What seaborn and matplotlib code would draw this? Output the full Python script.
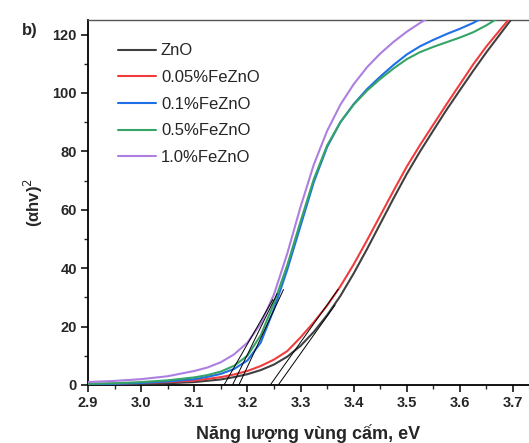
import seaborn as sns
import matplotlib.pyplot as plt
import pandas as pd
from matplotlib.ticker import MultipleLocator

# photon energy (eV) and (alpha h v)^2
x_zno = [2.90, 2.95, 3.00, 3.05, 3.10, 3.15, 3.175, 3.20, 3.225, 3.25, 3.275, 3.30, 3.325, 3.35,
         3.375, 3.40, 3.425, 3.45, 3.475, 3.50, 3.525, 3.55, 3.575, 3.60, 3.625, 3.65, 3.675, 3.70]
y_zno = [0.1, 0.2, 0.4, 0.6, 1.0, 1.9, 2.7, 3.7, 5.1, 7.0, 9.7, 13.4, 18.2, 23.9,
         30.5, 38.2, 46.5, 55.2, 63.9, 72.3, 80.0, 87.2, 94.3, 101.0, 107.6, 114.0, 120.0, 126.0]

x_fe005 = [2.90, 2.95, 3.00, 3.05, 3.10, 3.15, 3.175, 3.20, 3.225, 3.25, 3.275, 3.30, 3.325, 3.35,
           3.375, 3.40, 3.425, 3.45, 3.475, 3.50, 3.525, 3.55, 3.575, 3.60, 3.625, 3.65, 3.675, 3.70]
y_fe005 = [0.3, 0.5, 0.7, 1.0, 1.5, 2.7, 3.6, 4.8, 6.5, 8.7, 11.6, 16.3, 21.5, 27.2,
           33.8, 41.3, 49.5, 58.0, 66.5, 74.8, 82.2, 89.2, 96.2, 103.0, 109.8, 116.0, 121.5, 127.0]

x_fe01 = [2.90, 2.95, 3.00, 3.05, 3.10, 3.125, 3.15, 3.175, 3.20, 3.225, 3.25, 3.275, 3.30, 3.325,
          3.35, 3.375, 3.40, 3.425, 3.45, 3.475, 3.50, 3.525, 3.55, 3.575, 3.60, 3.625, 3.65]
y_fe01 = [0.2, 0.4, 0.7, 1.2, 2.0, 2.8, 3.8, 5.5, 8.4, 14.5, 26.0, 39.5, 54.5, 69.5,
          81.5, 90.0, 96.2, 101.3, 105.6, 109.6, 113.2, 116.0, 118.2, 120.2, 122.0, 124.0, 126.5]

x_fe05 = [2.90, 2.95, 3.00, 3.05, 3.10, 3.125, 3.15, 3.175, 3.20, 3.225, 3.25, 3.275, 3.30, 3.325,
          3.35, 3.375, 3.40, 3.425, 3.45, 3.475, 3.50, 3.525, 3.55, 3.575, 3.60, 3.625, 3.65, 3.675]
y_fe05 = [0.4, 0.6, 1.0, 1.6, 2.6, 3.4, 4.6, 6.6, 10.0, 17.0, 28.0, 41.0, 56.0, 70.5,
          82.0, 90.0, 96.0, 100.8, 104.8, 108.4, 111.6, 114.0, 115.8, 117.4, 119.0, 120.8, 123.2, 126.0]

x_fe10 = [2.90, 2.95, 3.00, 3.05, 3.10, 3.125, 3.15, 3.175, 3.20, 3.225, 3.25, 3.275, 3.30, 3.325,
          3.35, 3.375, 3.40, 3.425, 3.45, 3.475, 3.50, 3.525, 3.55]
y_fe10 = [1.0, 1.4, 2.0, 3.0, 4.8, 6.0, 7.8, 10.5, 14.5, 21.0, 31.0, 45.0, 61.0, 75.5,
          87.0, 96.0, 103.0, 108.8, 113.5, 117.5, 121.0, 124.0, 126.8]

labels = ['ZnO', '0.05%FeZnO', '0.1%FeZnO', '0.5%FeZnO', '1.0%FeZnO']
colors = ['#404040', '#f03c3c', '#1f6fe6', '#36a466', '#ac7fe0']

# tangent lines: intercept on energy axis and upper end point
tan_x0 = [3.258, 3.243, 3.184, 3.172, 3.156]
tan_x1 = [3.365, 3.371, 3.268, 3.256, 3.248]
tan_y1 = [27.4, 32.8, 32.7, 31.3, 29.3]

xs = [x_zno, x_fe005, x_fe01, x_fe05, x_fe10]
ys = [y_zno, y_fe005, y_fe01, y_fe05, y_fe10]
df = pd.concat([pd.DataFrame({'E': x, 'A': y, 'Sample': lab}) for x, y, lab in zip(xs, ys, labels)])

sns.set_theme(style='ticks')
plt.rcParams['font.family'] = ['Liberation Sans', 'DejaVu Sans']

fig = plt.figure(figsize=(5.29, 4.43), dpi=100)
ax = fig.add_axes([88 / 529, 58 / 443, 441 / 529, 365 / 443])

sns.lineplot(data=df, x='E', y='A', hue='Sample', hue_order=labels, palette=colors,
             linewidth=1.5, sort=False, estimator=None, ax=ax, zorder=3)

for x0, x1, y1 in zip(tan_x0, tan_x1, tan_y1):
    ax.plot([x0, x1], [0, y1], color='black', linewidth=0.7, zorder=4)

ax.set_xlim(2.9, 3.73)
ax.set_ylim(0, 125)
ax.xaxis.set_major_locator(MultipleLocator(0.1))
ax.xaxis.set_minor_locator(MultipleLocator(0.05))
ax.yaxis.set_major_locator(MultipleLocator(20))
ax.yaxis.set_minor_locator(MultipleLocator(10))
ax.tick_params(which='major', direction='out', length=5, width=1.3, labelsize=10.5, pad=3)
ax.tick_params(which='minor', direction='out', length=3, width=1.0)
for lab in ax.get_xticklabels() + ax.get_yticklabels():
    lab.set_fontweight('bold')

for s in ['left', 'bottom']:
    ax.spines[s].set_linewidth(1.3)
    ax.spines[s].set_color('black')
ax.spines['top'].set_color('#555555')
ax.spines['top'].set_linewidth(1.0)
ax.spines['right'].set_visible(False)

ax.set_xlabel('Năng lượng vùng cấm, eV', fontsize=13, fontweight='bold', labelpad=10)
ax.set_ylabel('(αhv)$^2$', fontsize=12, fontweight='bold', labelpad=5)

handles, _ = ax.get_legend_handles_labels()
ax.legend(handles, labels, loc='upper left', bbox_to_anchor=(0.052, 0.954), borderaxespad=0,
          frameon=False, fontsize=12, handlelength=2.3, handletextpad=0.3, labelspacing=0.7)

fig.text(22 / 529, 1 - 30 / 443, 'b)', fontsize=12, fontweight='bold', va='center', ha='left')

fig.savefig('out.png', dpi=100)
